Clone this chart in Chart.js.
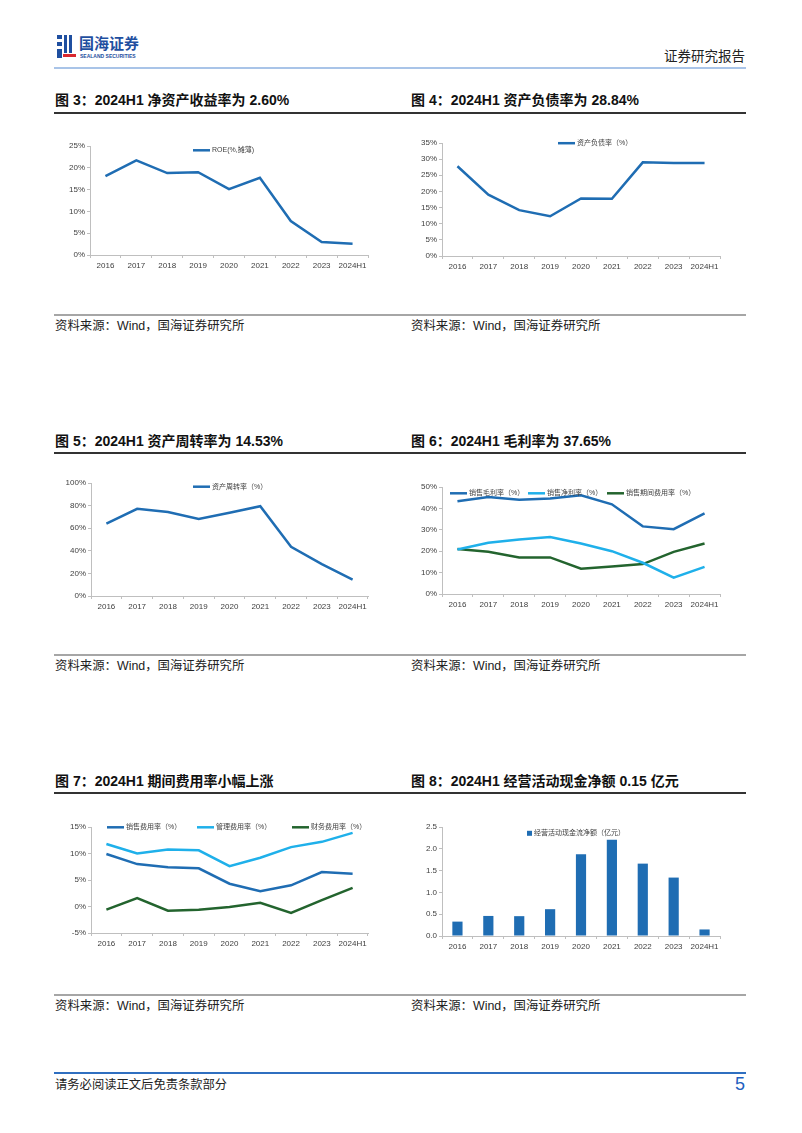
<!DOCTYPE html>
<html lang="zh-CN">
<head>
<meta charset="UTF-8" />
<title>国海证券 证券研究报告 第5页</title>
<script src="https://cdn.jsdelivr.net/npm/chart.js@4.4.1/dist/chart.umd.min.js"></script>
<style>
  body { margin: 0; background: #fff; }
  #page { position: relative; width: 802px; height: 1133px; overflow: hidden;
          font-family: "Liberation Sans", "Noto Sans CJK SC", sans-serif; color: #111; }
  .abs { position: absolute; white-space: nowrap; }
  .title { font-weight: bold; font-size: 14px; line-height: 16px; }
  .src { font-size: 12.4px; line-height: 14px; color: #222; }
  .rule { position: absolute; left: 54px; width: 692px; }
  .box { position: absolute; }
</style>
</head>
<body>
<div id="page">
  <!-- header -->
  <div class="abs" style="left:57px;top:35px;width:5px;height:4px;background:#1f4fa0"></div>
  <div class="abs" style="left:57px;top:42px;width:5px;height:4px;background:#1f4fa0"></div>
  <div class="abs" style="left:64px;top:35px;width:3px;height:18px;background:#1f4fa0"></div>
  <div class="abs" style="left:69px;top:35px;width:3px;height:18px;background:#1f4fa0"></div>
  <div class="abs" style="left:57px;top:49px;width:5px;height:9px;background:#1f4fa0"></div>
  <div class="abs" style="left:63px;top:54px;width:13px;height:3px;background:#d9282f"></div>
  <div class="abs" style="left:79px;top:35px;font-size:15px;font-weight:bold;color:#1f4fa0;line-height:18px">国海证券</div>
  <div class="abs" style="left:80px;top:53px;font-size:5px;font-weight:bold;color:#1f4fa0;line-height:6px">SEALAND SECURITIES</div>
  <div class="abs" style="right:57px;top:49px;font-size:13.5px;line-height:16px;color:#222">证券研究报告</div>
  <div class="rule" style="top:67px;height:2px;background:#a9c4e8"></div>

  <!-- row 1 -->
  <div class="abs title" style="left:55px;top:92px">图 3：2024H1 净资产收益率为 2.60%</div>
  <div class="abs title" style="left:411px;top:92px">图 4：2024H1 资产负债率为 28.84%</div>
  <div class="rule" style="top:112px;height:2px;background:#333"></div>
  <div class="box" id="b1"><canvas id="c1"></canvas></div>
  <div class="box" id="b2"><canvas id="c2"></canvas></div>
  <div class="rule" style="top:314px;height:2px;background:#a6a6a6"></div>
  <div class="abs src" style="left:55px;top:319px">资料来源：Wind，国海证券研究所</div>
  <div class="abs src" style="left:411px;top:319px">资料来源：Wind，国海证券研究所</div>

  <!-- row 2 -->
  <div class="abs title" style="left:55px;top:433px">图 5：2024H1 资产周转率为 14.53%</div>
  <div class="abs title" style="left:411px;top:433px">图 6：2024H1 毛利率为 37.65%</div>
  <div class="rule" style="top:452px;height:2px;background:#333"></div>
  <div class="box" id="b3"><canvas id="c3"></canvas></div>
  <div class="box" id="b4"><canvas id="c4"></canvas></div>
  <div class="rule" style="top:654px;height:2px;background:#a6a6a6"></div>
  <div class="abs src" style="left:55px;top:659px">资料来源：Wind，国海证券研究所</div>
  <div class="abs src" style="left:411px;top:659px">资料来源：Wind，国海证券研究所</div>

  <!-- row 3 -->
  <div class="abs title" style="left:55px;top:773px">图 7：2024H1 期间费用率小幅上涨</div>
  <div class="abs title" style="left:411px;top:773px">图 8：2024H1 经营活动现金净额 0.15 亿元</div>
  <div class="rule" style="top:792px;height:2px;background:#333"></div>
  <div class="box" id="b5"><canvas id="c5"></canvas></div>
  <div class="box" id="b6"><canvas id="c6"></canvas></div>
  <div class="rule" style="top:994px;height:2px;background:#a6a6a6"></div>
  <div class="abs src" style="left:55px;top:999px">资料来源：Wind，国海证券研究所</div>
  <div class="abs src" style="left:411px;top:999px">资料来源：Wind，国海证券研究所</div>

  <!-- footer -->
  <div class="rule" style="top:1072px;height:1.5px;background:#2f6fc0"></div>
  <div class="abs" style="left:55px;top:1078px;font-size:12.3px;line-height:14px;color:#222">请务必阅读正文后免责条款部分</div>
  <div class="abs" style="right:57px;top:1074px;font-size:18px;line-height:20px;color:#1f5fbf">5</div>
</div>

<script>
  // data
  const years = ['2016', '2017', '2018', '2019', '2020', '2021', '2022', '2023', '2024H1'];
  const roe = [18.1, 21.7, 18.8, 19.0, 15.1, 17.7, 7.8, 3.0, 2.6];
  const debtRatio = [27.8, 19.0, 14.2, 12.3, 17.8, 17.7, 29.0, 28.8, 28.84];
  const assetTurnover = [64.0, 77.2, 74.3, 68.1, 73.7, 79.5, 43.5, 28.3, 14.53];
  const grossMargin = [43.3, 45.3, 44.1, 44.6, 46.1, 41.9, 31.6, 30.3, 37.65];
  const netMargin = [20.8, 23.9, 25.5, 26.6, 23.6, 20.0, 14.6, 7.6, 12.7];
  const periodExpense = [21.0, 19.7, 17.1, 17.1, 11.8, 12.9, 14.0, 19.7, 23.6];
  const sellingExp = [9.9, 8.0, 7.4, 7.2, 4.3, 2.9, 4.0, 6.5, 6.2];
  const adminExp = [11.8, 10.0, 10.75, 10.6, 7.6, 9.2, 11.2, 12.2, 13.9];
  const financeExp = [-0.6, 1.6, -0.8, -0.6, -0.1, 0.7, -1.2, 1.2, 3.5];
  const opCashFlow = [0.33, 0.46, 0.455, 0.615, 1.875, 2.21, 1.66, 1.34, 0.15];

  const DARK = '#1f6db3';
  const LIGHT = '#1fb0ea';
  const GREEN = '#23642e';
  const AXIS = '#bfbfbf';
  const TICK = '#404040';
  const FONT = '"Liberation Sans", "Noto Sans CJK SC", sans-serif';

  // small legend drawn where the reference puts it (page coords)
  const miniLegend = {
    id: 'miniLegend',
    afterDraw(chart, args, opts) {
      const ctx = chart.ctx;
      ctx.save();
      ctx.font = '7px ' + FONT;
      ctx.textBaseline = 'middle';
      ctx.fillStyle = TICK;
      chart.data.datasets.forEach((ds, i) => {
        const p = opts.items[i];
        const x = p.x - opts.ox, y = p.y - opts.oy;
        if (chart.config.type === 'bar') {
          ctx.fillStyle = ds.backgroundColor;
          ctx.fillRect(x, y - 2.5, 5, 5);
          ctx.fillStyle = TICK;
          ctx.fillText(ds.label, x + 7, y);
        } else {
          ctx.strokeStyle = ds.borderColor;
          ctx.lineWidth = 2.5;
          ctx.beginPath();
          ctx.moveTo(x, y);
          ctx.lineTo(x + 17, y);
          ctx.stroke();
          ctx.fillStyle = TICK;
          ctx.fillText(ds.label, x + 19, y);
        }
      });
      ctx.restore();
    }
  };

  function makeChart(n, type, area, datasets, y, legendItems) {
    const box = { x: area.l - 40, y: area.t - 18 };
    box.w = area.r - box.x + 12;
    box.h = area.b - box.y + 22;
    const wrap = document.getElementById('b' + n);
    wrap.style.left = box.x + 'px';
    wrap.style.top = box.y + 'px';
    const cv = document.getElementById('c' + n);
    cv.width = box.w;
    cv.height = box.h;

    return new Chart(cv, {
      type: type,
      data: { labels: years, datasets: datasets },
      plugins: [miniLegend],
      options: {
        responsive: false,
        animation: false,
        layout: { padding: { top: area.t - box.y, right: box.x + box.w - area.r, bottom: 0, left: 0 } },
        plugins: {
          legend: { display: false },
          tooltip: { enabled: false },
          miniLegend: { items: legendItems, ox: box.x, oy: box.y }
        },
        scales: {
          x: {
            offset: true,
            grid: { drawOnChartArea: false, offset: true, tickLength: 3, color: AXIS },
            border: { color: AXIS },
            ticks: { color: TICK, font: { size: 8, family: FONT }, padding: 3, maxRotation: 0, autoSkip: false },
            afterFit(s) { s.height = box.y + box.h - area.b; }
          },
          y: {
            min: y.min, max: y.max,
            grid: { drawOnChartArea: false, tickLength: 3, color: AXIS },
            border: { color: AXIS },
            ticks: { stepSize: y.step, callback: y.fmt, color: TICK, font: { size: 8, family: FONT }, padding: 2 },
            afterFit(s) { s.width = area.l - box.x; }
          }
        }
      }
    });
  }

  function line(label, data, color) {
    return { label: label, data: data, borderColor: color, backgroundColor: color,
             borderWidth: 2.5, pointRadius: 0, tension: 0, fill: false };
  }

  const pct = v => v + '%';

  makeChart(1, 'line', { l: 90, t: 145.7, r: 368, b: 255 },
    [line('ROE(%,摊薄)', roe, DARK)],
    { min: 0, max: 25, step: 5, fmt: pct },
    [{ x: 193, y: 150 }]);

  makeChart(2, 'line', { l: 442, t: 143.3, r: 720, b: 256.7 },
    [line('资产负债率（%）', debtRatio, DARK)],
    { min: 0, max: 35, step: 5, fmt: pct },
    [{ x: 558, y: 143.5 }]);

  makeChart(3, 'line', { l: 91, t: 483.3, r: 368, b: 597.3 },
    [line('资产周转率（%）', assetTurnover, DARK)],
    { min: 0, max: 100, step: 20, fmt: pct },
    [{ x: 193, y: 487 }]);

  makeChart(4, 'line', { l: 442, t: 486.7, r: 720, b: 594 },
    [line('销售毛利率（%）', grossMargin, DARK),
     line('销售净利率（%）', netMargin, LIGHT),
     line('销售期间费用率（%）', periodExpense, GREEN)],
    { min: 0, max: 50, step: 10, fmt: pct },
    [{ x: 450, y: 493 }, { x: 528, y: 493 }, { x: 607, y: 493 }]);

  makeChart(5, 'line', { l: 91, t: 826.7, r: 368, b: 932.7 },
    [line('销售费用率（%）', sellingExp, DARK),
     line('管理费用率（%）', adminExp, LIGHT),
     line('财务费用率（%）', financeExp, GREEN)],
    { min: -5, max: 15, step: 5, fmt: pct },
    [{ x: 107, y: 827 }, { x: 197, y: 827 }, { x: 292, y: 827 }]);

  makeChart(6, 'bar', { l: 442, t: 826.7, r: 720, b: 936.3 },
    [{ label: '经营活动现金流净额（亿元）', data: opCashFlow, backgroundColor: DARK,
       borderWidth: 0, categoryPercentage: 1, barPercentage: 0.33 }],
    { min: 0, max: 2.5, step: 0.5, fmt: v => v.toFixed(1) },
    [{ x: 527, y: 833 }]);
</script>
</body>
</html>
